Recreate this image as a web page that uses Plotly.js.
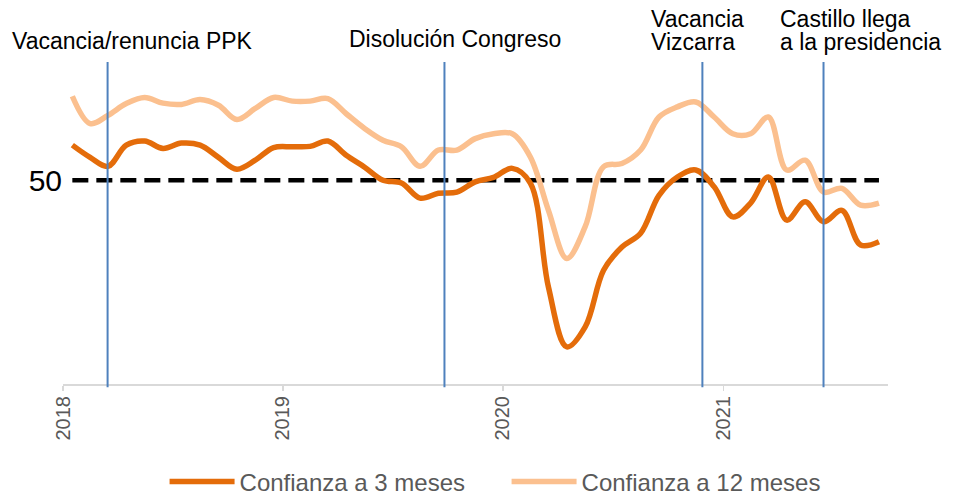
<!DOCTYPE html>
<html>
<head>
<meta charset="utf-8">
<script src="https://cdn.plot.ly/plotly-3.0.1.min.js"></script>
<style>html,body{margin:0;padding:0;background:#fff;}#chart{width:954px;height:495px;}</style>
</head>
<body>
<div id="chart"></div>
<script>
// Monthly series, Jan 2018 - Sep 2021
const startYear = 2018, startMonth = 1, nMonths = 45;
const confianza3 = [58.6,55.6,53.4,58.6,59.6,57.8,59.1,58.6,55.6,52.7,54.9,58.0,
                    58.2,58.3,59.6,56.1,53.2,50.0,49.3,45.6,46.8,47.1,49.6,50.7,
                    52.9,49.3,23.8,9.1,14.0,27.9,33.6,37.0,46.3,50.8,52.5,48.4,
                    41.0,44.4,50.8,40.2,44.7,39.8,42.6,34.1,34.9];
const confianza12 = [70.6,63.9,65.9,68.8,70.3,68.9,68.6,69.8,68.4,64.9,67.6,70.3,
                     69.4,69.4,70.0,66.3,62.7,59.8,58.2,53.4,57.4,57.4,60.2,61.4,
                     61.4,55.7,42.6,30.8,38.6,53.3,54.1,57.4,65.5,68.0,69.2,65.5,
                     61.4,61.4,65.5,52.5,54.9,47.1,48.0,43.9,44.4];
const umbral = 50;
const seriesNames = ["Confianza a 3 meses", "Confianza a 12 meses"];
const yearTicks = ["2018","2019","2020","2021"];
const eventDates = ["2018-03-16","2019-09-26","2020-11-27","2021-06-16"];
const eventLabels = [["Vacancia/renuncia PPK"],["Disolución Congreso"],["Vacancia","Vizcarra"],["Castillo llega","a la presidencia"]];

const months = [];
for (let i = 0; i < nMonths; i++) {
  const m = startMonth - 1 + i;
  const y = startYear + Math.floor(m / 12);
  const mm = (m % 12) + 1;
  months.push(y + "-" + String(mm).padStart(2, "0"));
}
const umbralSeries = months.map(() => umbral);

const common = {x: months, type: "scatter", mode: "lines", xperiod: "M1", xperiodalignment: "middle"};
const traces = [
  Object.assign({}, common, {y: umbralSeries, showlegend: false, hoverinfo: "skip",
    line: {color: "#000000", width: 4.5, dash: "16px,8px"}}),
  Object.assign({}, common, {y: confianza12, name: seriesNames[1], legendrank: 2,
    line: {color: "#FBC08F", width: 5.5, shape: "spline", smoothing: 1}}),
  Object.assign({}, common, {y: confianza3, name: seriesNames[0], legendrank: 1,
    line: {color: "#E46C0A", width: 5.5, shape: "spline", smoothing: 1}})
];

const shapes = eventDates.map(d => ({
  type: "line", xref: "x", yref: "paper", x0: d, x1: d, y0: -0.01, y1: 1,
  line: {color: "#4F81BD", width: 2}
}));

const labelPos = [
  [{x: 10, y: 41}],
  [{x: 347, y: 39}],
  [{x: 649, y: 19}, {x: 649, y: 42}],
  [{x: 778, y: 19}, {x: 778, y: 42}]
];
const L = 63, R = 888, T = 62, B = 384;
const annotations = [];
eventLabels.forEach((lines, i) => {
  lines.forEach((txt, j) => {
    const p = labelPos[i][j];
    annotations.push({
      text: txt, xref: "paper", yref: "paper",
      x: (p.x - L) / (R - L), y: (B - p.y) / (B - T),
      xanchor: "left", yanchor: "middle", showarrow: false,
      font: {family: "Liberation Sans, Arial, sans-serif", size: 23, color: "#000000"}
    });
  });
});

const layout = {
  width: 954, height: 495,
  margin: {l: L, r: 954 - R, t: T, b: 495 - B, pad: 0, autoexpand: false},
  paper_bgcolor: "#ffffff", plot_bgcolor: "#ffffff",
  showlegend: true,
  legend: {orientation: "h", x: 0.531, xref: "container", xanchor: "center",
    y: (495 - 482) / 495, yref: "container", yanchor: "middle",
    font: {family: "Liberation Sans, Arial, sans-serif", size: 24, color: "#595959"},
    itemwidth: 65, entrywidth: 262, traceorder: "normal"},
  xaxis: {
    type: "date", range: ["2018-01-01", "2021-10-01"], automargin: false,
    tickvals: yearTicks.map(y => y + "-01-01"), ticktext: yearTicks,
    tickangle: -90, ticks: "outside", ticklen: 5, tickcolor: "#D9D9D9", tickwidth: 1.5,
    ticklabelstandoff: -3,
    showline: true, linecolor: "#D9D9D9", linewidth: 2,
    showgrid: false, zeroline: false,
    tickfont: {family: "Liberation Sans, Arial, sans-serif", size: 20, color: "#595959"}
  },
  yaxis: {
    range: [0, 79], tickvals: [umbral], ticktext: [String(umbral)], automargin: false,
    showgrid: false, zeroline: false, showline: false, ticks: "",
    tickfont: {family: "Liberation Sans, Arial, sans-serif", size: 30, color: "#000000"}
  },
  shapes: shapes,
  annotations: annotations
};

Plotly.newPlot("chart", traces, layout, {displayModeBar: false, staticPlot: true});
</script>
</body>
</html>
